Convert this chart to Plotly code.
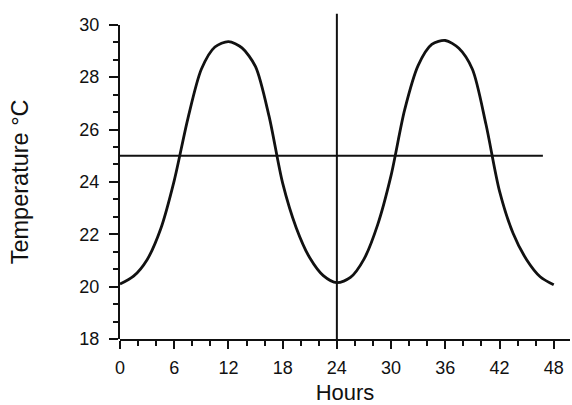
import plotly.graph_objects as go

hours = [0, 1.5, 3, 4.5, 6, 7.5, 9, 10.5, 12, 13.5, 15, 16.5, 18, 19.5, 21, 22.5,
         24, 25.5, 27, 28.5, 30, 31.5, 33, 34.5, 36, 37.5, 39, 40.5, 42, 43.5, 45, 46.5, 48]
temps = [20.10, 20.40, 21.03, 22.20, 24.05, 26.40, 28.30, 29.15, 29.36, 29.12, 28.40,
         26.50, 23.95, 22.25, 21.10, 20.42,
         20.15, 20.35, 21.05, 22.35, 24.25, 26.75, 28.45, 29.25, 29.40, 29.10, 28.30,
         26.20, 23.65, 22.04, 21.03, 20.38, 20.07]
mean_x = [0, 46.8]
mean_y = [25, 25]
split_x = [24, 24]
split_y = [18, 30.42]
x_ticks = [0, 6, 12, 18, 24, 30, 36, 42, 48]
y_ticks = [18, 20, 22, 24, 26, 28, 30]

Y_TOP = 30.45
font = "Liberation Sans, Arial, Helvetica, sans-serif"
ink = "#111111"

fig = go.Figure()
fig.add_trace(go.Scatter(x=hours, y=temps, mode="lines",
                         line=dict(color=ink, width=2.8, shape="spline", smoothing=0.8),
                         hoverinfo="skip", showlegend=False))
fig.add_trace(go.Scatter(x=mean_x, y=mean_y, mode="lines",
                         line=dict(color=ink, width=2), hoverinfo="skip", showlegend=False))
fig.add_trace(go.Scatter(x=split_x, y=split_y, mode="lines",
                         line=dict(color=ink, width=2), hoverinfo="skip", showlegend=False))
# invisible trace so the visible temperature axis (y2) is drawn
fig.add_trace(go.Scatter(x=[0], y=[18], yaxis="y2", mode="markers",
                         marker=dict(opacity=0), hoverinfo="skip", showlegend=False))

fig.update_layout(
    width=572, height=405,
    margin=dict(l=120, r=2, t=13, b=66),
    paper_bgcolor="white", plot_bgcolor="rgba(0,0,0,0)",
    font=dict(family=font, color=ink, size=18),
    xaxis=dict(range=[0, 49.8], tickmode="array", tickvals=x_ticks,
               ticks="outside", ticklen=8, tickwidth=2, tickcolor=ink,
               showline=True, linewidth=2, linecolor=ink,
               showgrid=False, zeroline=False, ticklabelstandoff=3,
               minor=dict(dtick=2, tick0=0, ticks="outside", ticklen=5,
                          tickwidth=2, tickcolor=ink, showgrid=False),
               tickfont=dict(size=18),
               title=dict(text="Hours", font=dict(size=22), standoff=9)),
    yaxis=dict(range=[18, Y_TOP], visible=False, showgrid=False, zeroline=False),
    yaxis2=dict(range=[18, 30], domain=[0, (30 - 18) / (Y_TOP - 18)],
                anchor="x",
                tickmode="array", tickvals=y_ticks,
                ticks="outside", ticklen=9, tickwidth=2, tickcolor=ink,
                showline=True, linewidth=2, linecolor=ink,
                showgrid=False, zeroline=False, ticklabelstandoff=6,
                minor=dict(dtick=2 / 3, tick0=18, ticks="outside", ticklen=5,
                           tickwidth=2, tickcolor=ink, showgrid=False),
                tickfont=dict(size=18),
                title=dict(text="Temperature °C", font=dict(size=23.5), standoff=44)),
)

fig.write_html("out.html", config={"displayModeBar": False},
               post_script="document.body.style.margin='0';")
